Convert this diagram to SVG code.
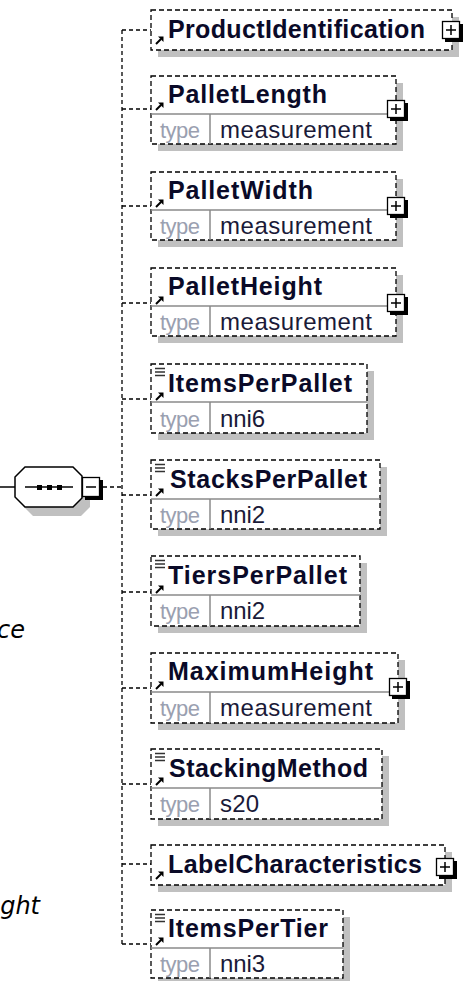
<svg xmlns="http://www.w3.org/2000/svg" xmlns:xlink="http://www.w3.org/1999/xlink" width="464" height="981" viewBox="0 0 464 981">
<style>
.sh{fill:#c0c0c0}
.box{fill:#fff;stroke:#000;stroke-width:1.3;stroke-dasharray:5 3}
.sep{stroke:#8a8a8a;stroke-width:1.5;fill:none}
.nm{font-family:"Liberation Sans",Arial,sans-serif;font-weight:bold;font-size:25px;fill:#0a0a28}
.tl{font-family:"Liberation Sans",Arial,sans-serif;font-size:22px;fill:#9aa0b0}
.tv{font-family:"Liberation Sans",Arial,sans-serif;font-size:24px;fill:#1a1a38}
.conn{stroke:#000;stroke-width:1.3;stroke-dasharray:4 3;fill:none}
.it{font-family:"DejaVu Sans",Verdana,sans-serif;font-style:italic;font-size:24px;fill:#000}
</style>
<defs>
<g id="arr"><path d="M1,8 L6,3" stroke="#000" stroke-width="2"/><path d="M3,0.5 L8.5,0.5 L8.5,6 Z" fill="#000"/></g>
<g id="eq"><path d="M0,0.5H10M0,4H10M0,7.5H10" stroke="#333" stroke-width="1.3"/></g>
<g id="plus"><rect x="3" y="3" width="18" height="18" fill="#000"/><rect x="0.5" y="0.5" width="17" height="17" fill="#fff" stroke="#000" stroke-width="1.3"/><path d="M4,9H14M9,4V14" stroke="#000" stroke-width="1.5"/></g>
</defs>

<g id="connectors">
<path d="M0,487H15" stroke="#000" stroke-width="1.5"/>
<path class="conn" d="M103,487H122"/>
<path class="conn" d="M122,30V944"/>
<path class="conn" d="M122,30H151M122,109H151M122,206H151M122,303H151M122,399H151M122,495H151M122,592H151M122,688H151M122,784H151M122,864H151M122,944H151"/>
</g>

<g id="sequence">
<polygon class="sh" points="23,486 33,476 81,476 90,485 90,507 81,516 33,516 23,506"/>
<polygon points="15,477 25,467 73,467 82,476 82,498 73,507 25,507 15,497" fill="#fff" stroke="#000" stroke-width="1.5"/>
<path d="M25,487H73" stroke="#000" stroke-width="1.3"/>
<rect x="37" y="485" width="5" height="5" fill="#000"/>
<rect x="47" y="485" width="5" height="5" fill="#000"/>
<rect x="57" y="485" width="5" height="5" fill="#000"/>
<rect x="85" y="480" width="18" height="20" fill="#000"/>
<rect x="82.5" y="477.5" width="17" height="19" fill="#fff" stroke="#000" stroke-width="1.3"/>
<path d="M86,487H96" stroke="#000" stroke-width="1.5"/>
</g>

<g id="ProductIdentification">
<rect class="sh" x="158" y="17" width="301" height="40"/>
<rect class="box" x="151" y="10" width="301" height="40"/>
<use xlink:href="#arr" x="155" y="36"/>
<text class="nm" x="168" y="38" textLength="257">ProductIdentification</text>
<use xlink:href="#plus" x="442" y="21"/>
</g>

<g id="PalletLength">
<rect class="sh" x="158" y="83" width="245" height="68"/>
<rect class="box" x="151" y="76" width="245" height="68"/>
<path class="sep" d="M151,114H396M210,114V144"/>
<use xlink:href="#arr" x="155" y="102"/>
<text class="nm" x="168" y="103" textLength="159">PalletLength</text>
<text class="tl" x="160" y="138" textLength="40">type</text>
<text class="tv" x="220" y="138" textLength="152">measurement</text>
<use xlink:href="#plus" x="387" y="100"/>
</g>

<g id="PalletWidth">
<rect class="sh" x="158" y="179" width="245" height="68"/>
<rect class="box" x="151" y="172" width="245" height="68"/>
<path class="sep" d="M151,210H396M210,210V240"/>
<use xlink:href="#arr" x="155" y="199"/>
<text class="nm" x="168" y="199" textLength="145">PalletWidth</text>
<text class="tl" x="160" y="234" textLength="40">type</text>
<text class="tv" x="220" y="234" textLength="152">measurement</text>
<use xlink:href="#plus" x="387" y="197"/>
</g>

<g id="PalletHeight">
<rect class="sh" x="158" y="275" width="245" height="68"/>
<rect class="box" x="151" y="268" width="245" height="68"/>
<path class="sep" d="M151,306H396M210,306V336"/>
<use xlink:href="#arr" x="155" y="296"/>
<text class="nm" x="168" y="295" textLength="154">PalletHeight</text>
<text class="tl" x="160" y="330" textLength="40">type</text>
<text class="tv" x="220" y="330" textLength="152">measurement</text>
<use xlink:href="#plus" x="387" y="294"/>
</g>

<g id="ItemsPerPallet">
<rect class="sh" x="158" y="371" width="216" height="69"/>
<rect class="box" x="151" y="364" width="216" height="69"/>
<path class="sep" d="M151,402H367M210,402V433"/>
<use xlink:href="#eq" x="155" y="368"/>
<use xlink:href="#arr" x="155" y="392"/>
<text class="nm" x="168" y="392" textLength="184">ItemsPerPallet</text>
<text class="tl" x="160" y="427" textLength="40">type</text>
<text class="tv" x="220" y="427" textLength="45">nni6</text>
</g>

<g id="StacksPerPallet">
<rect class="sh" x="158" y="467" width="229" height="69"/>
<rect class="box" x="151" y="460" width="229" height="69"/>
<path class="sep" d="M151,499H380M210,499V529"/>
<use xlink:href="#eq" x="155" y="464"/>
<use xlink:href="#arr" x="155" y="488"/>
<text class="nm" x="170" y="488" textLength="197">StacksPerPallet</text>
<text class="tl" x="160" y="523" textLength="40">type</text>
<text class="tv" x="220" y="523" textLength="45">nni2</text>
</g>

<g id="TiersPerPallet">
<rect class="sh" x="158" y="563" width="209" height="70"/>
<rect class="box" x="151" y="556" width="209" height="70"/>
<path class="sep" d="M151,595H360M210,595V626"/>
<use xlink:href="#eq" x="155" y="560"/>
<use xlink:href="#arr" x="155" y="585"/>
<text class="nm" x="168" y="584" textLength="179">TiersPerPallet</text>
<text class="tl" x="160" y="619" textLength="40">type</text>
<text class="tv" x="220" y="619" textLength="45">nni2</text>
</g>

<g id="MaximumHeight">
<rect class="sh" x="158" y="660" width="247" height="70"/>
<rect class="box" x="151" y="653" width="247" height="70"/>
<path class="sep" d="M151,692H398M210,692V723"/>
<use xlink:href="#arr" x="155" y="681"/>
<text class="nm" x="168" y="680" textLength="205">MaximumHeight</text>
<text class="tl" x="160" y="716" textLength="40">type</text>
<text class="tv" x="220" y="716" textLength="152">measurement</text>
<use xlink:href="#plus" x="389" y="678"/>
</g>

<g id="StackingMethod">
<rect class="sh" x="158" y="756" width="231" height="70"/>
<rect class="box" x="151" y="749" width="231" height="70"/>
<path class="sep" d="M151,788H382M210,788V819"/>
<use xlink:href="#eq" x="155" y="753"/>
<use xlink:href="#arr" x="155" y="777"/>
<text class="nm" x="169" y="777" textLength="199">StackingMethod</text>
<text class="tl" x="160" y="812" textLength="40">type</text>
<text class="tv" x="220" y="812" textLength="39">s20</text>
</g>

<g id="LabelCharacteristics">
<rect class="sh" x="158" y="852" width="294" height="40"/>
<rect class="box" x="151" y="845" width="294" height="40"/>
<use xlink:href="#arr" x="155" y="871"/>
<text class="nm" x="168" y="873" textLength="254">LabelCharacteristics</text>
<use xlink:href="#plus" x="436" y="858"/>
</g>

<g id="ItemsPerTier">
<rect class="sh" x="158" y="917" width="192" height="69"/>
<rect class="box" x="151" y="910" width="192" height="68"/>
<path class="sep" d="M151,948H343M210,948V978"/>
<use xlink:href="#eq" x="155" y="914"/>
<use xlink:href="#arr" x="155" y="937"/>
<text class="nm" x="168" y="937" textLength="160">ItemsPerTier</text>
<text class="tl" x="160" y="972" textLength="40">type</text>
<text class="tv" x="220" y="972" textLength="45">nni3</text>
</g>

<text class="it" x="25" y="638" text-anchor="end">ce</text>
<text class="it" x="40" y="914" text-anchor="end">ght</text>
</svg>
